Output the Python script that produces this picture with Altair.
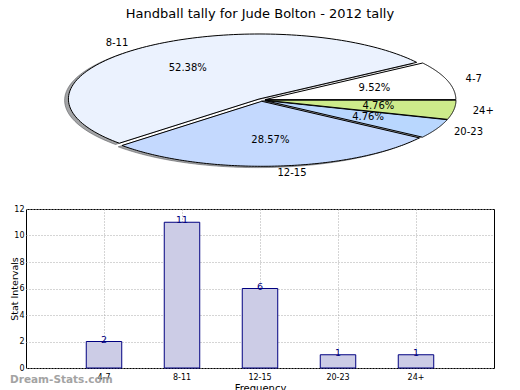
import altair as alt
import pandas as pd

# ---------------- data ----------------
TITLE = "Handball tally for Jude Bolton - 2012 tally"
CATEGORIES = ["4-7", "8-11", "12-15", "20-23", "24+"]
COUNTS = [2, 11, 6, 1, 1]
Y_TICKS = [0, 2, 4, 6, 8, 10, 12]
WATERMARK = ["Dream-Stats.com"]

# ---------------- styles ----------------
PIE_COLORS = ["#FFFFFF", "#EBF2FE", "#C4D9FE", "#B9D7FE", "#CDEB8B"]
BAR_FILL = "#CCCCE6"
BAR_EDGE = "#000080"
VALUE_COLOR = "#000080"
FONT = "DejaVu Sans"

# ---------------- layout (pixels) ----------------
PLOT_W = 468
PIE_H = 161           # pie panel plot-area height
BAR_H = 159
SPACING = 20
CX = 235.5            # pie centre relative to the pie plot area
CY = 77
RX, RY = 190.7, 65.0  # ellipse radii (matplotlib pie in a non-square axes)
EXPLODE = 0.02
LABEL_DIST = 1.1
PCT_DIST = 0.6
SHADOW_DX, SHADOW_DY = -0.02, -0.02
N_ARC = 120

x_dom = [-CX / RX, (PLOT_W - CX) / RX]
y_dom = [-(PIE_H - CY) / RY, CY / RY]
xs = alt.Scale(domain=x_dom, nice=False, zero=False)
ys = alt.Scale(domain=y_dom, nice=False, zero=False)

pie_df = pd.DataFrame({"label": CATEGORIES, "value": COUNTS,
                       "idx": list(range(len(CATEGORIES)))})

base = (
    alt.Chart(pie_df)
    .transform_joinaggregate(total="sum(value)")
    .transform_window(cum="sum(value)", sort=[alt.SortField("idx")], frame=[None, 0])
    .transform_calculate(a0="2*PI*(datum.cum - datum.value)/datum.total")
    .transform_calculate(a1="2*PI*datum.cum/datum.total")
    .transform_calculate(mid="(datum.a0 + datum.a1)/2")
    .transform_calculate(ox=f"{EXPLODE}*cos(datum.mid)")
    .transform_calculate(oy=f"{EXPLODE}*sin(datum.mid)")
)

poly = (
    base.transform_calculate(steps=f"sequence(0, {N_ARC + 1})")
    .transform_flatten(["steps"], as_=["k"])
    .transform_calculate(ang=f"datum.a0 + (datum.a1 - datum.a0)*(datum.k - 1)/{N_ARC - 1}")
    .transform_calculate(px="datum.ox + (datum.k == 0 ? 0 : cos(datum.ang))")
    .transform_calculate(py="datum.oy + (datum.k == 0 ? 0 : sin(datum.ang))")
)

shadow = (
    poly.transform_calculate(sx=f"datum.px + ({SHADOW_DX})")
    .transform_calculate(sy=f"datum.py + ({SHADOW_DY})")
    .mark_line(interpolate="linear-closed", fill="#474a4d", fillOpacity=0.5,
               stroke="#474a4d", strokeOpacity=0.5, strokeWidth=1)
    .encode(x=alt.X("sx:Q", scale=xs, axis=None),
            y=alt.Y("sy:Q", scale=ys, axis=None),
            order="k:Q", detail="label:N")
)

wedges = (
    poly.mark_line(interpolate="linear-closed", stroke="black", strokeWidth=1)
    .encode(x=alt.X("px:Q", scale=xs, axis=None),
            y=alt.Y("py:Q", scale=ys, axis=None),
            order="k:Q", detail="label:N",
            fill=alt.Fill("label:N", scale=alt.Scale(domain=CATEGORIES, range=PIE_COLORS),
                          legend=None))
)

lab = (
    base.transform_calculate(lx=f"({LABEL_DIST} + {EXPLODE})*cos(datum.mid)")
    .transform_calculate(ly=f"({LABEL_DIST} + {EXPLODE})*sin(datum.mid)")
    .transform_calculate(tx=f"({PCT_DIST} + {EXPLODE})*cos(datum.mid)")
    .transform_calculate(ty=f"({PCT_DIST} + {EXPLODE})*sin(datum.mid)")
    .transform_calculate(pct="format(100*datum.value/datum.total, '.2f') + '%'")
)

txt = dict(font=FONT, fontSize=10, color="black", baseline="middle")
right_labels = (
    lab.transform_filter("cos(datum.mid) >= 0")
    .mark_text(align="left", **txt)
    .encode(x=alt.X("lx:Q", scale=xs, axis=None), y=alt.Y("ly:Q", scale=ys, axis=None),
            text="label:N")
)
left_labels = (
    lab.transform_filter("cos(datum.mid) < 0")
    .mark_text(align="right", **txt)
    .encode(x=alt.X("lx:Q", scale=xs, axis=None), y=alt.Y("ly:Q", scale=ys, axis=None),
            text="label:N")
)
pct_labels = (
    lab.mark_text(align="center", **txt)
    .encode(x=alt.X("tx:Q", scale=xs, axis=None), y=alt.Y("ty:Q", scale=ys, axis=None),
            text="pct:N")
)

pie = alt.layer(shadow, wedges, left_labels, right_labels, pct_labels).properties(
    width=PLOT_W, height=PIE_H,
    title=alt.TitleParams(TITLE, font=FONT, fontSize=13, fontWeight="normal",
                          anchor="middle", offset=2, color="black"),
)

# ---------------- bar panel ----------------
bar_df = pd.DataFrame({"cat": CATEGORIES, "count": COUNTS})

bar_x_scale = alt.Scale(domain=CATEGORIES, paddingInner=0.545, paddingOuter=0.7725)
bar_y_scale = alt.Scale(domain=[0, 12], nice=False)

x_axis = alt.Axis(title="Frequency", labelAngle=0, labelFont=FONT, labelFontSize=8,
                  labelColor="black", labelPadding=5, ticks=False, domain=False,
                  labelOverlap=False,
                  grid=True, gridDash=[1, 2], gridColor="#aaaaaa", bandPosition=0.5,
                  titleFont=FONT, titleFontSize=10, titleFontWeight="normal",
                  titleColor="black", titlePadding=2)
y_axis = alt.Axis(title="Stat Intervals", values=Y_TICKS,
                  labelFont=FONT, labelFontSize=8,
                  labelColor="black", labelPadding=2, ticks=False, domain=False,
                  labelOverlap=False, labelFlush=False,
                  grid=True, gridDash=[1, 2], gridColor="#aaaaaa",
                  titleFont=FONT, titleFontSize=9.5, titleFontWeight="normal",
                  titleColor="black", titleX=-9, titleBaseline="alphabetic")

xb = alt.X("cat:N", sort=CATEGORIES, scale=bar_x_scale, axis=x_axis)
yb = alt.Y("count:Q", scale=bar_y_scale, axis=y_axis)

bars = alt.Chart(bar_df).mark_bar(fill=BAR_FILL, stroke=BAR_EDGE, strokeWidth=1).encode(x=xb, y=yb)
values = alt.Chart(bar_df).mark_text(
    font=FONT, fontSize=9.5, color=VALUE_COLOR, baseline="alphabetic", align="center", dy=1
).encode(x=xb, y=yb, text="count:Q")

wm = alt.Chart(pd.DataFrame({"t": WATERMARK})).mark_text(
    font=FONT, fontSize=10.5, fontWeight="bold", color="#9a9a9a", align="left",
    baseline="middle", opacity=0.9
).encode(x=alt.value(-16), y=alt.value(BAR_H + 12), text="t:N")

bar_panel = alt.layer(bars, values, wm).properties(
    width=PLOT_W, height=BAR_H,
    view=alt.ViewBackground(stroke="black", strokeWidth=1, strokeOpacity=1),
)

chart = (
    alt.vconcat(pie, bar_panel, spacing=SPACING)
    .properties(padding=0, background="white")
    .configure_view(strokeOpacity=0)
)

chart.save("out.html", embed_options={"renderer": "svg", "actions": False})
